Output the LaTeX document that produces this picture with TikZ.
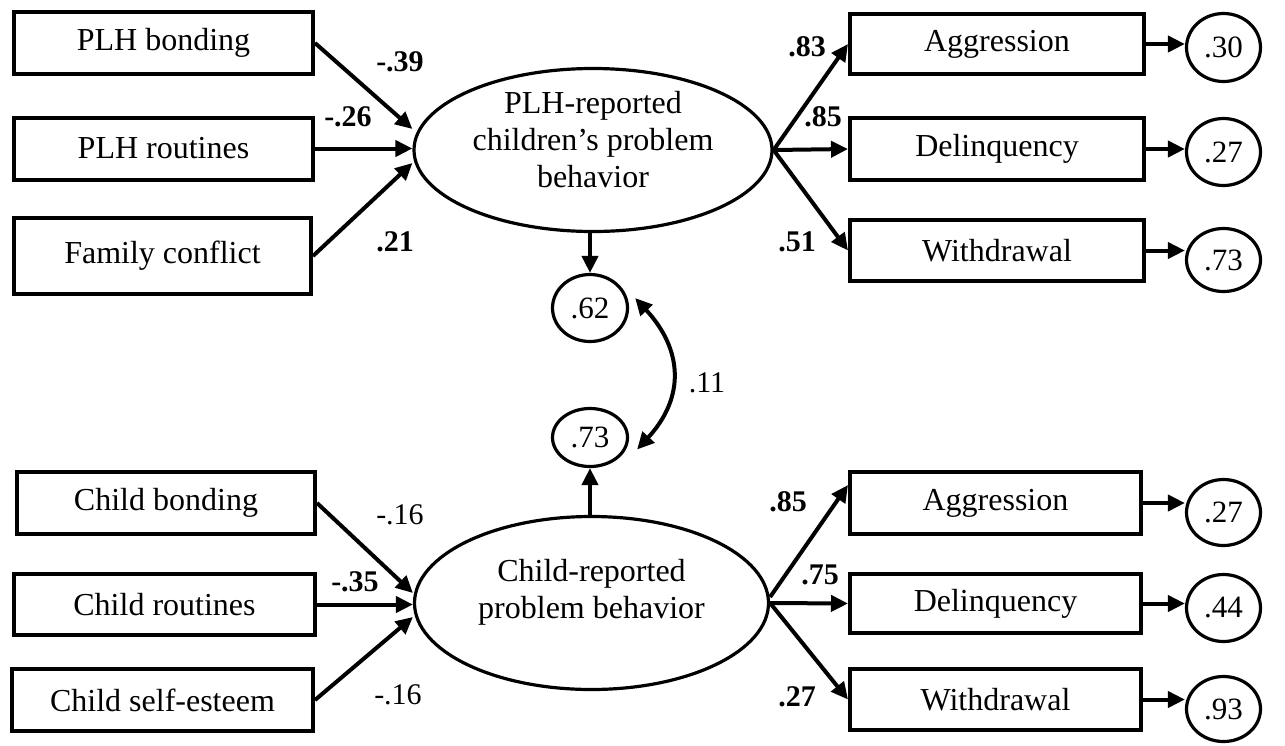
\documentclass[tikz,border=0pt]{standalone}
\usepackage{fontspec}
\setmainfont{Liberation Serif}
\usetikzlibrary{shapes.geometric,arrows.meta,calc}
\begin{document}
\begin{tikzpicture}[x=1pt,y=-1pt,
 box/.style={draw,line width=4pt,rectangle,inner sep=0pt,font=\fontsize{32}{37}\selectfont},
 lat/.style={draw,line width=3.2pt,ellipse,inner sep=0pt},
 ltext/.style={align=center,inner sep=0pt,font=\fontsize{32}{37}\selectfont},
 err/.style={draw,line width=3.2pt,ellipse,inner sep=0pt,minimum width=74pt,font=\fontsize{31}{36}\selectfont},
 arr/.style={line width=4pt,-{Triangle[length=17pt,width=16pt]}},
 wb/.style={inner sep=0pt,font=\bfseries\fontsize{30}{34}\selectfont},
 wn/.style={inner sep=0pt,font=\fontsize{30}{34}\selectfont}]
\useasboundingbox (0,0) rectangle (1285,745);

% upper left boxes
\node[box,minimum width=299,minimum height=62] (b1) at (163.5,43) {PLH bonding};
\node[box,minimum width=299,minimum height=62] (b2) at (163.5,148.5) {PLH routines};
\node[box,minimum width=297,minimum height=76] (b3) at (162.5,256) {Family conflict};

% upper latent
\node[lat,minimum width=358,minimum height=163] (E1) at (593,150) {};
\node[ltext] (E1t) at (593,140) {PLH-reported\\children’s problem\\behavior};

% upper right boxes
\node[box,minimum width=294,minimum height=60] (r1) at (997,44) {Aggression};
\node[box,minimum width=294,minimum height=62] (r2) at (997,149) {Delinquency};
\node[box,minimum width=294,minimum height=61] (r3) at (997,250.5) {Withdrawal};

% upper errors
\node[err,minimum height=68] (e1) at (1223.5,47.5) {.30};
\node[err,minimum height=67] (e2) at (1223.5,152) {.27};
\node[err,minimum height=63] (e3) at (1223.5,260) {.73};

% middle disturbances
\node[err,minimum width=75,minimum height=67] (c62) at (590,308) {.62};
\node[err,minimum width=75,minimum height=58] (c73) at (590,437.5) {.73};

% lower left boxes
\node[box,minimum width=298,minimum height=62] (l1) at (166,503) {Child bonding};
\node[box,minimum width=301,minimum height=61] (l2) at (164.5,604.5) {Child routines};
\node[box,minimum width=301,minimum height=62] (l3) at (162.5,700) {Child self-esteem};

% lower latent
\node[lat,minimum width=354,minimum height=173] (E2) at (591.5,603) {};
\node[ltext] (E2t) at (591.5,592) {Child-reported\\problem behavior};

% lower right boxes
\node[box,minimum width=291,minimum height=62] (s1) at (995.5,503) {Aggression};
\node[box,minimum width=291,minimum height=59] (s2) at (995.5,603.5) {Delinquency};
\node[box,minimum width=291,minimum height=61] (s3) at (995.5,699.5) {Withdrawal};

% lower errors
\node[err,minimum height=66] (f1) at (1223.5,512.5) {.27};
\node[err,minimum height=67] (f2) at (1223.5,608) {.44};
\node[err,minimum height=65] (f3) at (1223.5,709) {.93};

% upper arrows
\draw[arr] (b1.east) -- ([yshift=21]E1.west);
\draw[arr] (b2.east) -- (b2.east -| E1.west);
\draw[arr] (b3.east) -- ([yshift=-13]E1.west);
\draw[arr] (E1.east) -- (r1.west);
\draw[arr] (E1.east) -- (r2.west);
\draw[arr] (E1.east) -- (r3.west);
\draw[arr] (r1.east) -- (r1.east -| e1.west);
\draw[arr] (r2.east) -- (r2.east -| e2.west);
\draw[arr] (r3.east) -- (r3.east -| e3.west);

% middle arrows
\draw[arr] (c62.north |- E1.south) -- (c62.north);
\draw[arr] (c73.south |- E2.north) -- (c73.south);
\draw[line width=4pt,{Triangle[length=17pt,width=16pt]}-{Triangle[length=17pt,width=16pt]}]
  ([xshift=6,yshift=10]c62.east) .. controls +(48,52) and +(48,-52) .. ([xshift=8,yshift=-12]c73.east);

% lower arrows
\draw[arr] (l1.east) -- ([yshift=10]E2.west);
\draw[arr] (l2.east) -- (l2.east -| E2.west);
\draw[arr] (l3.east) -- ([yshift=-14]E2.west);
\draw[arr] ([yshift=6]E2.east) -- ([yshift=18]s1.west);
\draw[arr] (E2.east) -- (s2.west);
\draw[arr] (E2.east) -- (s3.west);
\draw[arr] (s1.east) -- (s1.east -| f1.west);
\draw[arr] (s2.east) -- (s2.east -| f2.west);
\draw[arr] (s3.east) -- (s3.east -| f3.west);

% weights
\node[wb] (w1) at (400,62) {-.39};
\node[wb] (w2) at (348,117) {-.26};
\node[wb] (w3) at (395,242) {.21};
\node[wb] (w4) at (807,47) {.83};
\node[wb] (w5) at (823,117) {.85};
\node[wb] (w6) at (797,242) {.51};
\node[wn] (w7) at (707,383) {.11};
\node[wn] (w8) at (400,515) {-.16};
\node[wb] (w9) at (355,582) {-.35};
\node[wn] (w10) at (398,695) {-.16};
\node[wb] (w11) at (788,502) {.85};
\node[wb] (w12) at (820,575) {.75};
\node[wb] (w13) at (797,697) {.27};
\end{tikzpicture}
\end{document}
